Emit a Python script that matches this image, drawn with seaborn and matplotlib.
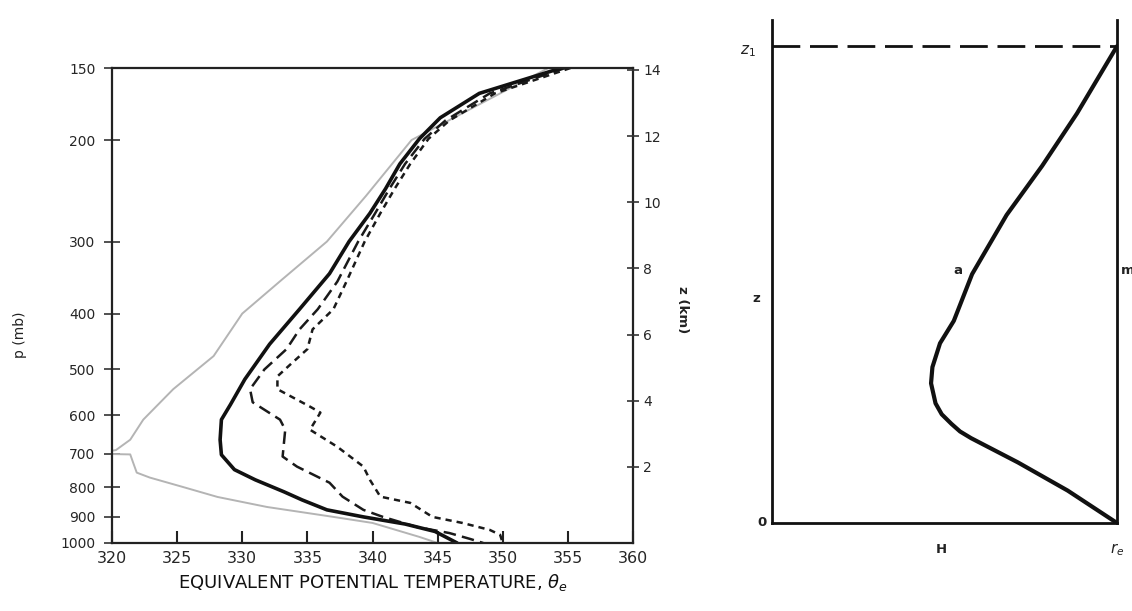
import numpy as np
import pandas as pd
import matplotlib
matplotlib.use("Agg")
import matplotlib.pyplot as plt
import seaborn as sns
from matplotlib.ticker import FixedLocator, NullLocator, FixedFormatter

sns.set_theme(style="white")
plt.rcParams['font.family'] = ['DejaVu Sans']

# ---------------- data: left panel (theta_e profiles) ----------------
p_ticks = [150, 200, 300, 400, 500, 600, 700, 800, 900, 1000]
t_ticks = [320, 325, 330, 335, 340, 345, 350, 355, 360]
z_ticks = [2, 4, 6, 8, 10, 12, 14]

solid_p = [150, 166, 183, 199, 220, 243, 268, 300, 341, 393, 452, 520, 575, 611,
           662, 703, 746, 777, 815, 842, 876, 901, 927, 955, 1000]
solid_t = [354.5, 348.2, 345.2, 343.6, 342.1, 341.0, 339.8, 338.2, 336.7, 334.4,
           332.1, 330.2, 329.1, 328.4, 328.3, 328.4, 329.4, 331.0, 333.2, 334.6,
           336.5, 339.3, 342.5, 344.8, 346.5]

dashA_p = [150, 166, 185, 199, 220, 243, 268, 300, 352, 393, 426, 461, 500, 541,
           570, 611, 636, 708, 737, 786, 831, 876, 901, 938, 961, 984, 1000]
dashA_t = [354.8, 349.0, 345.6, 344.0, 342.5, 341.3, 340.2, 338.9, 337.3, 335.8,
           334.4, 333.4, 331.7, 330.6, 330.8, 332.9, 333.3, 333.1, 334.2, 336.7,
           337.7, 339.3, 340.8, 343.4, 345.9, 347.5, 348.5]

dashB_p = [150, 166, 185, 199, 220, 243, 268, 300, 352, 393, 426, 461, 490, 514,
           541, 580, 594, 636, 681, 737, 777, 831, 852, 901, 923, 949, 968, 1000]
dashB_t = [355.2, 349.4, 345.9, 344.3, 342.9, 341.7, 340.6, 339.4, 338.0, 337.0,
           335.4, 335.0, 333.7, 332.7, 332.7, 335.2, 336.0, 335.2, 337.3, 339.3,
           339.8, 340.6, 342.9, 344.6, 346.9, 349.0, 349.8, 350.0]

gray_p = [150, 200, 250, 300, 350, 400, 474, 541, 611, 662, 690, 700, 702, 723,
          755, 770, 799, 832, 866, 901, 923, 976, 1000]
gray_t = [353.5, 343.0, 339.5, 336.5, 333.0, 330.0, 327.8, 324.7, 322.4, 321.4,
          320.3, 318.5, 321.4, 321.6, 321.9, 322.9, 325.4, 328.1, 331.9, 337.0,
          340.0, 343.6, 345.0]

# ---------------- data: right panel (schematic) ----------------
curve_x = [1.0, 0.857, 0.713, 0.577, 0.545, 0.520, 0.492, 0.474, 0.461, 0.465,
           0.487, 0.527, 0.580, 0.680, 0.783, 0.884, 1.0]
curve_z = [0.0, 0.068, 0.127, 0.178, 0.192, 0.208, 0.228, 0.251, 0.293, 0.327,
           0.377, 0.424, 0.522, 0.646, 0.749, 0.859, 1.0]
z1_x = [0.0, 1.0]
z1_z = [1.0, 1.0]

W, H = 1132, 611
fig = plt.figure(figsize=(W / 100, H / 100), dpi=100)
fig.patch.set_facecolor("white")

# ---------------- left panel ----------------
ax = fig.add_axes([112 / W, 1 - 543 / H, (633 - 112) / W, (543 - 68) / H])
ax.set_facecolor("white")

sns.lineplot(x=gray_t, y=gray_p, sort=False, estimator=None, ax=ax,
             color="#b4b4b4", lw=1.4)
sns.lineplot(x=dashB_t, y=dashB_p, sort=False, estimator=None, ax=ax,
             color="#1a1a1a", lw=1.8, linestyle=(0, (2.5, 2.0)))
sns.lineplot(x=dashA_t, y=dashA_p, sort=False, estimator=None, ax=ax,
             color="#1a1a1a", lw=1.8, linestyle=(0, (5.0, 2.5)))
sns.lineplot(x=solid_t, y=solid_p, sort=False, estimator=None, ax=ax,
             color="#111111", lw=2.6)

ax.set_yscale("log")
ax.set_ylim(1000, 150)
ax.set_xlim(320, 360)
ax.yaxis.set_major_locator(FixedLocator(p_ticks))
ax.yaxis.set_major_formatter(FixedFormatter([str(v) for v in p_ticks]))
ax.yaxis.set_minor_locator(NullLocator())
ax.xaxis.set_major_locator(FixedLocator(t_ticks))
ax.set_xticklabels([str(v) for v in t_ticks])
ax.tick_params(axis="x", direction="in", length=9, width=1.5, color="#222222",
               labelsize=11.5, pad=6, bottom=True)
ax.tick_params(axis="y", direction="inout", length=12, width=1.2, color="#333333",
               labelsize=10, pad=6, left=True)
for s in ax.spines.values():
    s.set_color("#222222")
    s.set_linewidth(1.6)
ax.set_xlabel(r"EQUIVALENT POTENTIAL TEMPERATURE, $\theta_e$", fontsize=13,
              color="#111111", labelpad=4)
ax.set_ylabel("")
ax.grid(False)
fig.text(20 / W, 1 - 335 / H, "p (mb)", rotation=90, ha="center", va="center",
         fontsize=10, color="#222222")

ax2 = ax.twinx()
ax2.set_ylim(-0.30, 14.06)
ax2.yaxis.set_major_locator(FixedLocator(z_ticks))
ax2.set_yticklabels([str(v) for v in z_ticks])
ax2.tick_params(axis="y", direction="inout", length=9, width=1.2, color="#333333",
                labelsize=10, pad=3, right=True)
ax2.grid(False)
for s in ax2.spines.values():
    s.set_visible(False)
fig.text(682 / W, 1 - 310 / H, "z (km)", rotation=-90, ha="center", va="center",
         fontsize=9.5, fontweight="bold", color="#222222")

# ---------------- right panel ----------------
axr = fig.add_axes([772 / W, 1 - 523 / H, (1117 - 772) / W, (523 - 20) / H])
axr.set_facecolor("white")
sns.lineplot(x=z1_x, y=z1_z, sort=False, estimator=None, ax=axr,
             color="#111111", lw=2.0, linestyle=(0, (10, 3.5)))
sns.lineplot(x=curve_x, y=curve_z, sort=False, estimator=None, ax=axr,
             color="#111111", lw=3.0)
axr.set_xlim(0, 1)
axr.set_ylim(0, 1.055)
axr.set_xticks([])
axr.set_yticks([])
axr.grid(False)
for k, s in axr.spines.items():
    s.set_color("#111111")
    s.set_linewidth(2.0)
axr.spines["top"].set_visible(False)

txt = dict(fontsize=9.5, color="#222222", ha="center", va="center",
           fontweight="bold")
axr.text(-0.07, 0.99, r"$z_1$", fontsize=11, color="#222222", ha="center",
         va="center")
axr.text(-0.045, 0.47, "z", **txt)
axr.text(0.54, 0.53, "a", **txt)
axr.text(1.03, 0.53, "m", **txt)
axr.text(-0.03, 0.0, "0", **txt)
axr.text(0.49, -0.055, "H", **txt)
axr.text(1.0, -0.055, r"$r_e$", fontsize=11, color="#222222", ha="center",
         va="center")

fig.savefig("out.png", dpi=100, facecolor="white")
